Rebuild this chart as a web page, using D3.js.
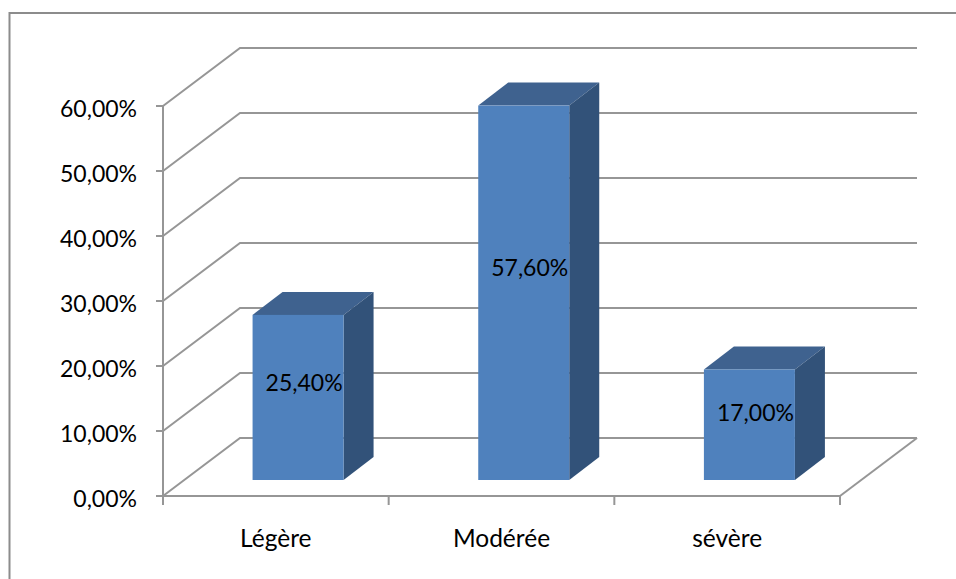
<!DOCTYPE html>
<html>
<head>
<meta charset="utf-8">
<script src="https://cdn.jsdelivr.net/npm/d3@7"></script>
<style>
  html, body { margin: 0; padding: 0; background: #fff; }
  svg { display: block; }
  text { font-family: Lato, "Open Sans", sans-serif; fill: #000; }
</style>
</head>
<body>
<svg id="chart" width="956" height="579"></svg>
<script>
// Severity distribution, drawn as a 3D-style column chart
const categories = ["Légère", "Modérée", "sévère"];
const values = [25.4, 57.6, 17.0];
const tickValues = [0, 10, 20, 30, 40, 50, 60];

const fmt = v => v.toFixed(2).replace(".", ",") + "%";

const W = 956, H = 579;
const axisLeft = 163, axisRight = 840, axisBottom = 496, axisTop = 106;
const depthX = 77, depthY = 58;        // wall / floor receding offset
const barWidth = 91;
const barDepthX = 30, barDepthY = 23;  // column receding offset
const floorShift = 16;                 // how far the column base sits back on the floor
const VALUE_FONT = 23, CATEGORY_FONT = 24.5;

const GRID = "#969696";
const FRONT = "#4f81bd", TOP = "#3f628f", SIDE = "#325279";

const svg = d3.select("#chart");

const x = d3.scaleBand().domain(categories).range([axisLeft, axisRight]);
const y = d3.scaleLinear().domain([0, 60]).range([axisBottom, axisTop]);

// Outer chart frame
svg.append("path")
  .attr("d", `M9.5,${H} V13 H${W}`)
  .attr("fill", "none").attr("stroke", "#8c8c8c").attr("stroke-width", 2);

// Wall gridlines and floor outline
const grid = svg.append("g").attr("fill", "none").attr("stroke", GRID).attr("stroke-width", 2);
grid.selectAll("path.wall").data(tickValues).join("path")
  .attr("class", "wall")
  .attr("d", d => `M${axisLeft},${y(d)} L${axisLeft + depthX},${y(d) - depthY} H${axisRight + depthX}`);
grid.append("path")
  .attr("d", `M${axisRight},${axisBottom} L${axisRight + depthX},${axisBottom - depthY}`);

// Value and category axes with outward ticks
grid.append("path").attr("d", `M${axisLeft},${axisTop} V${axisBottom} H${axisRight}`);
grid.selectAll("path.ytick").data(tickValues).join("path")
  .attr("class", "ytick")
  .attr("d", d => `M${axisLeft - 7},${y(d)} H${axisLeft}`);
const xEdges = [...categories.map(c => x(c)), axisRight];
grid.selectAll("path.xtick").data(xEdges).join("path")
  .attr("class", "xtick")
  .attr("d", d => `M${d},${axisBottom} V${axisBottom + 9}`);

// Value axis labels
svg.append("g").selectAll("text").data(tickValues).join("text")
  .attr("x", 137).attr("y", d => y(d) + 3)
  .attr("dy", "0.35em").attr("text-anchor", "end")
  .attr("font-size", VALUE_FONT)
  .text(fmt);

// Category labels
svg.append("g").selectAll("text").data(categories).join("text")
  .attr("x", d => x(d) + x.bandwidth() / 2).attr("y", 538)
  .attr("dy", "0.35em").attr("text-anchor", "middle")
  .attr("font-size", CATEGORY_FONT)
  .text(d => d);

// Columns
const bars = categories.map((c, i) => ({ c, v: values[i] }));
const barLeft = d => x(d.c) + x.bandwidth() / 2 - barWidth / 2 + 1 + floorShift * depthX / depthY;
const barTop = d => y(d.v) - floorShift;
const barBase = axisBottom - floorShift;
const col = svg.append("g").selectAll("g").data(bars).join("g");

col.append("path").attr("fill", TOP)
  .attr("d", d => `M${barLeft(d)},${barTop(d)} l${barDepthX},${-barDepthY} h${barWidth} l${-barDepthX},${barDepthY} Z`);
col.append("path").attr("fill", SIDE)
  .attr("d", d => {
    const r = barLeft(d) + barWidth;
    return `M${r},${barTop(d)} l${barDepthX},${-barDepthY} V${barBase - barDepthY} L${r},${barBase} Z`;
  });
col.append("rect").attr("fill", FRONT)
  .attr("x", barLeft)
  .attr("y", barTop)
  .attr("width", barWidth)
  .attr("height", d => barBase - barTop(d));

// Data labels sit a little right of the column centre and rise with the value
col.append("text")
  .attr("x", d => barLeft(d) + barWidth / 2 + 6)
  .attr("y", d => barBase - 6 + (y(d.v) - axisBottom) * 0.55)
  .attr("dy", "0.35em").attr("text-anchor", "middle")
  .attr("font-size", VALUE_FONT)
  .text(d => fmt(d.v));
</script>
</body>
</html>
